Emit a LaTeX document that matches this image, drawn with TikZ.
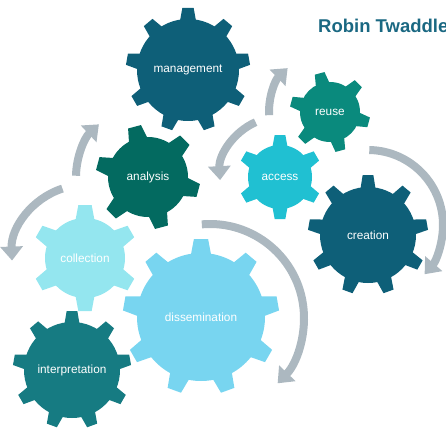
\documentclass[tikz,border=0pt]{standalone}
\usepackage{fontspec}
\setmainfont{Liberation Sans}
\usetikzlibrary{arrows.meta}

\definecolor{mgmtblue}{RGB}{14,95,120}
\definecolor{analysisgreen}{RGB}{3,106,96}
\definecolor{reuseteal}{RGB}{10,138,125}
\definecolor{accesscyan}{RGB}{32,192,210}
\definecolor{collectcyan}{RGB}{148,230,239}
\definecolor{dissemblue}{RGB}{120,213,240}
\definecolor{interpteal}{RGB}{22,123,130}
\definecolor{cyclegrey}{RGB}{172,184,192}
\definecolor{authorblue}{RGB}{26,104,130}

% #1 centre, #2 teeth, #3 body radius, #4 tip radius, #5 first tooth angle, #6 colour
\newcommand{\cogwheel}[6]{%
  \fill[#6] (#1) circle[radius=#3pt];
  \foreach \k in {1,...,#2}{
    \pgfmathsetmacro{\ta}{#5+(\k-1)*360/#2}
    \pgfmathsetmacro{\wb}{1.45*#3/#2}
    \pgfmathsetmacro{\wt}{1.0*#3/#2}
    \fill[#6,shift={(#1)},rotate=\ta] (#3-3,-\wb) -- (#4,-\wt) -- (#4,\wt) -- (#3-3,\wb) -- cycle;
  }}

\tikzset{
  cog label/.style={text=white,font=\fontsize{11.8}{14}\selectfont,inner sep=0pt},
  cycle arrow/.style={draw=cyclegrey,line width=8pt,-{Triangle[length=14pt,width=22pt]}},
}

\begin{document}
\begin{tikzpicture}[x=1pt,y=1pt]
  \useasboundingbox (0,0) rectangle (446,429);
  \coordinate (c-mgmt) at (188,359);
  \coordinate (c-analysis) at (148,252);
  \coordinate (c-reuse) at (330,317);
  \coordinate (c-access) at (280,252);
  \coordinate (c-creation) at (368,194);
  \coordinate (c-collect) at (85,171);
  \coordinate (c-dissem) at (201,112);
  \coordinate (c-interp) at (72,59);
  % grey cycle arrows
  \draw[cycle arrow] (c-analysis) ++(179:72pt) arc[start angle=179,end angle=133,radius=72pt];
  \draw[cycle arrow] (c-collect) ++(108:73pt) arc[start angle=108,end angle=182,radius=73pt];
  \draw[cycle arrow] (c-reuse) ++(183:61pt) arc[start angle=183,end angle=134,radius=61pt];
  \draw[cycle arrow] (c-access) ++(114:60pt) arc[start angle=114,end angle=183,radius=60pt];
  \draw[cycle arrow] (368,204) ++(89:75pt) arc[start angle=89,end angle=-41,radius=75pt];
  \draw[cycle arrow] (210,111) ++(95:94pt) arc[start angle=95,end angle=-44,radius=94pt];
  % gears
  \cogwheel{c-mgmt}{9}{51}{62}{90}{mgmtblue}
  \cogwheel{c-analysis}{6}{40}{52}{105}{analysisgreen}
  \cogwheel{c-reuse}{6}{30}{40}{105}{reuseteal}
  \cogwheel{c-access}{6}{32}{42}{90}{accesscyan}
  \cogwheel{c-creation}{9}{48}{60}{90}{mgmtblue}
  \cogwheel{c-collect}{6}{40}{53}{90}{collectcyan}
  \cogwheel{c-dissem}{9}{64}{78}{90}{dissemblue}
  \cogwheel{c-interp}{9}{48}{59}{90}{interpteal}
  \node[cog label] (mgmt) at (c-mgmt) {management};
  \node[cog label] (analysis) at (c-analysis) {analysis};
  \node[cog label] (reuse) at (c-reuse) {reuse};
  \node[cog label] (access) at (c-access) {access};
  \node[cog label] (creation) at (c-creation) {creation};
  \node[cog label] (collect) at (c-collect) {collection};
  \node[cog label] (dissem) at (c-dissem) {dissemination};
  \node[cog label] (interp) at (c-interp) {interpretation};
  \node[anchor=base west,text=authorblue,font=\fontsize{18.5}{22}\selectfont\bfseries,inner sep=0pt] (author) at (318,396.5) {Robin Twaddle};
\end{tikzpicture}
\end{document}
